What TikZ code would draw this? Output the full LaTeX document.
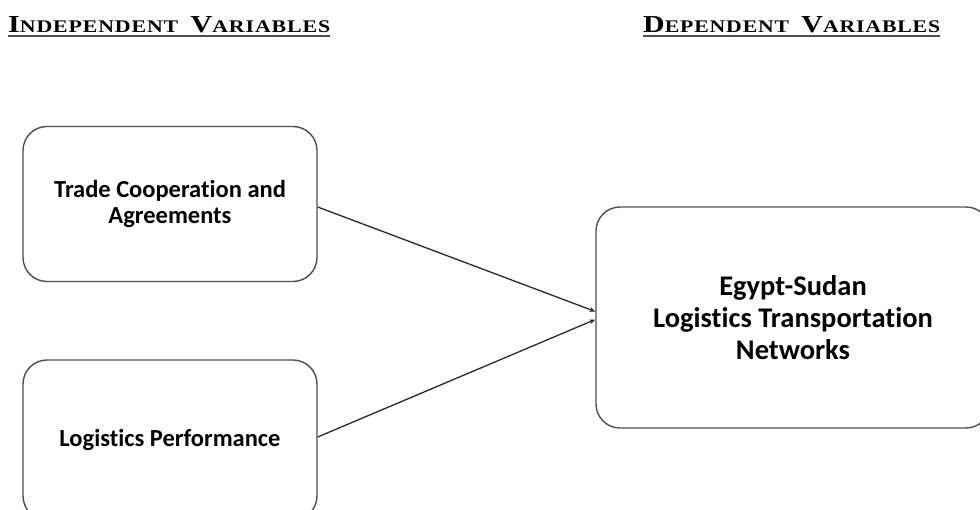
\documentclass[tikz,border=0pt]{standalone}
\usepackage{fontspec}
\setmainfont{Carlito}[Ligatures={NoCommon}]
\newfontfamily\hdrfont{Liberation Serif}[LetterSpace=4]
\usetikzlibrary{arrows.meta}
\definecolor{boxline}{HTML}{4A4F57}
\definecolor{arrline}{HTML}{2A2A2A}
\newcommand{\hdrword}[2]{{\fontsize{22}{22}\selectfont #1}{\fontsize{16}{16}\selectfont #2}}
\tikzset{
  varbox/.style={draw=boxline, line width=1.4pt, rounded corners=24pt, align=center, font=\bfseries},
  hdr/.style={font=\hdrfont\bfseries, inner sep=0pt, anchor=base west},
  conn/.style={draw=arrline, line width=1.3pt, -{Stealth[length=6pt,width=5pt]}}
}
\begin{document}
\begin{tikzpicture}[x=1pt,y=-1pt]
\useasboundingbox (0,0) rectangle (980,510);
\fill[white] (0,0) rectangle (980,510);
\node[hdr] (h1) at (8,33) {\resizebox{322pt}{16pt}{\hdrword{I}{NDEPENDENT}\hspace{9pt}\hdrword{V}{ARIABLES}}};
\node[hdr] (h2) at (643,33) {\resizebox{297pt}{16pt}{\hdrword{D}{EPENDENT}\hspace{9pt}\hdrword{V}{ARIABLES}}};
\draw[line width=1.8pt, gray!60!black] ([yshift=-3pt]h1.base west) -- ([yshift=-3pt]h1.base east);
\draw[line width=1.8pt, gray!60!black] ([yshift=-3pt]h2.base west) -- ([yshift=-3pt]h2.base east);
\node[varbox, minimum width=294pt, minimum height=155pt, font=\bfseries\fontsize{24.5}{26}\selectfont] (b1) at (170,204) {Trade Cooperation and\\Agreements};
\node[varbox, minimum width=294pt, minimum height=160pt, font=\bfseries\fontsize{24.5}{26}\selectfont] (b2) at (170,440) {Logistics Performance};
\node[varbox, minimum width=394pt, minimum height=221pt, font=\bfseries\fontsize{28.5}{32}\selectfont] (b3) at (793,317.5) {Egypt-Sudan\\Logistics Transportation\\Networks};
\coordinate (e1) at ([yshift=6pt]b3.west);
\coordinate (e2) at ([yshift=-2pt]b3.west);
\draw[conn] ([yshift=-3pt]b1.east) -- (e1);
\draw[conn] ([yshift=3pt]b2.east) -- (e2);
\end{tikzpicture}
\end{document}
